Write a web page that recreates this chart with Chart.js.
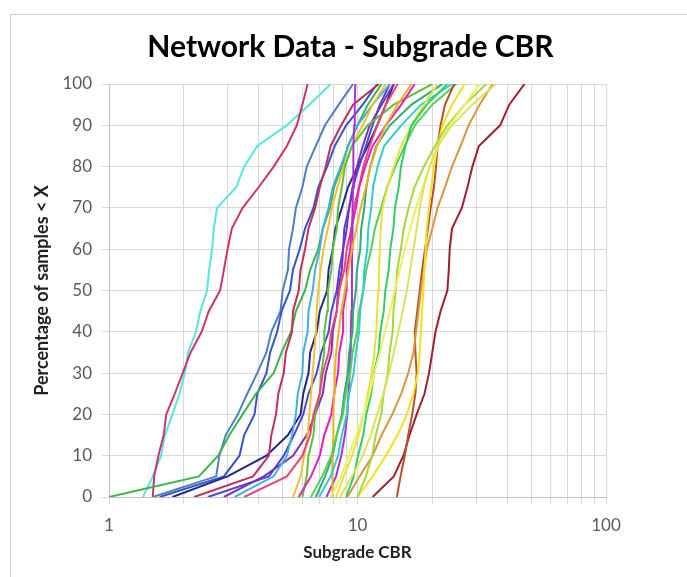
<!DOCTYPE html>
<html>
<head>
<meta charset="utf-8">
<title>Network Data - Subgrade CBR</title>
<script src="https://cdn.jsdelivr.net/npm/chart.js@4.4.1/dist/chart.umd.min.js"></script>
<style>
    html, body { margin: 0; padding: 0; background: #fff; overflow: hidden; }
    #wrap { position: relative; width: 687px; height: 577px; }
    #frame {
        position: absolute; left: 10px; top: 14px; width: 700px; height: 600px;
        border: 1px solid #d0d0d0; box-sizing: border-box;
    }
    canvas { position: absolute; left: 0; top: 0; }
</style>
</head>
<body>
<div id="wrap">
    <div id="frame"></div>
    <canvas id="cbrChart" width="687" height="577"></canvas>
</div>
<script>
// Cumulative percentage levels (y) shared by every curve
const pctLevels = [0, 5, 10, 15, 20, 25, 30, 35, 40, 45, 50, 55, 60, 65, 70, 75, 80, 85, 90, 95, 100];

// Subgrade CBR at each level, one array per network section
const cbrCyan      = [1.37, 1.5, 1.62, 1.68, 1.8, 1.92, 2.02, 2.08, 2.24, 2.33, 2.48, 2.53, 2.6, 2.64, 2.72, 3.25, 3.5, 3.95, 5.2, 6.4, 7.8];
const cbrRose      = [1.5, 1.52, 1.58, 1.66, 1.7, 1.84, 1.98, 2.13, 2.36, 2.52, 2.8, 2.9, 3.0, 3.12, 3.45, 4.0, 4.6, 5.2, 5.7, 6.0, 6.3];
const cbrSteel     = [1.5, 2.7, 2.78, 2.95, 3.3, 3.6, 3.95, 4.3, 4.5, 4.9, 5.0, 5.25, 5.3, 5.5, 5.65, 6.0, 6.25, 6.8, 7.4, 8.4, 9.6];
const cbrRoyal     = [1.6, 2.9, 3.35, 3.5, 3.85, 3.95, 4.3, 4.45, 4.75, 4.95, 5.35, 5.5, 5.85, 6.15, 6.65, 6.95, 7.55, 8.1, 9.0, 10.5, 12.0];
const cbrGreenA    = [1.0, 2.3, 2.75, 3.05, 3.45, 3.9, 4.6, 4.95, 5.4, 5.65, 6.15, 6.45, 6.95, 7.25, 7.75, 8.05, 8.65, 9.15, 10.0, 11.0, 12.5];
const cbrNavy      = [1.8, 3.0, 4.3, 5.25, 5.9, 6.05, 6.35, 6.45, 6.85, 7.05, 7.55, 7.65, 7.95, 8.15, 8.65, 9.15, 10.0, 11.0, 12.0, 13.0, 14.0];
const cbrCrimson   = [2.2, 3.8, 4.4, 4.5, 4.7, 4.8, 5.05, 5.15, 5.45, 5.5, 5.8, 5.9, 6.15, 6.35, 6.75, 7.05, 7.45, 7.8, 8.6, 9.6, 12.2];
const cbrSky       = [3.2, 4.6, 5.2, 5.45, 5.65, 5.75, 6.0, 6.05, 6.3, 6.35, 6.6, 6.75, 7.05, 7.25, 7.65, 7.95, 8.55, 9.2, 10.0, 11.5, 13.5];
const cbrGold      = [5.5, 5.9, 6.1, 6.3, 6.4, 6.5, 6.6, 6.7, 6.8, 6.85, 6.95, 7.1, 7.3, 7.6, 7.9, 8.3, 8.8, 9.5, 10.5, 11.5, 13.0];
const cbrGreenB    = [6.0, 6.25, 6.35, 6.65, 6.75, 7.05, 7.15, 7.35, 7.35, 7.55, 7.6, 7.85, 7.95, 8.25, 8.35, 8.65, 8.9, 9.5, 11.0, 14.0, 20.0];
const cbrPurple    = [2.9, 4.2, 5.5, 6.25, 6.75, 7.25, 7.45, 7.85, 7.95, 8.25, 8.35, 8.65, 8.75, 9.05, 9.25, 9.65, 9.95, 10.5, 11.2, 12.5, 14.0];
const cbrMagenta   = [5.8, 6.5, 7.05, 7.35, 7.85, 8.05, 8.35, 8.45, 8.75, 8.75, 9.0, 9.05, 9.35, 9.45, 9.85, 10.15, 10.75, 11.5, 13.0, 15.0, 17.0];
const cbrViolet    = [7.5, 8.2, 8.6, 8.9, 9.1, 9.2, 9.3, 9.35, 9.4, 9.45, 9.5, 9.5, 9.52, 9.55, 9.55, 9.6, 9.6, 9.65, 9.7, 9.75, 9.8];
const cbrSeaGreen  = [6.8, 7.4, 7.95, 8.25, 8.65, 8.85, 9.15, 9.25, 9.55, 9.6, 9.85, 9.95, 10.25, 10.35, 10.65, 10.85, 11.25, 11.9, 13.5, 16.5, 22.0];
const cbrTurquoise = [7.0, 7.8, 8.35, 8.65, 9.05, 9.25, 9.65, 9.85, 10.15, 10.25, 10.55, 10.65, 10.95, 11.05, 11.35, 11.55, 12.05, 12.8, 15.0, 18.0, 24.0];
const cbrYellowA   = [8.2, 8.8, 9.5, 10.1, 10.6, 11.0, 11.4, 11.7, 11.9, 12.0, 12.1, 12.2, 12.3, 12.4, 12.6, 13.2, 14.0, 15.0, 16.5, 18.5, 21.0];
const cbrSpring    = [9.0, 9.65, 10.05, 10.55, 10.85, 11.35, 11.65, 12.15, 12.35, 12.75, 12.95, 13.35, 13.55, 13.95, 14.15, 14.65, 14.95, 15.6, 16.5, 19.0, 23.0];
const cbrLime      = [10.0, 10.8, 11.45, 11.85, 12.45, 12.75, 13.25, 13.45, 13.85, 13.95, 14.25, 14.45, 14.95, 15.35, 16.05, 16.95, 18.5, 20.5, 23.0, 27.0, 33.0];
const cbrPaleLime  = [8.5, 9.5, 10.5, 11.3, 12.0, 12.7, 13.4, 14.0, 14.6, 15.2, 15.8, 16.3, 16.8, 17.3, 17.8, 18.5, 19.5, 21.0, 24.0, 29.0, 36.0];
const cbrYellowB   = [10.0, 11.5, 13.0, 14.5, 15.8, 16.8, 17.5, 17.8, 18.0, 18.2, 18.4, 18.6, 18.8, 19.0, 19.4, 19.8, 20.3, 21.0, 22.0, 24.0, 27.0];
const cbrAmber     = [7.9, 7.9, 7.95, 8.0, 8.0, 8.05, 8.1, 8.2, 8.4, 8.6, 8.9, 9.2, 9.5, 9.9, 10.3, 10.8, 11.3, 12.0, 13.0, 14.5, 16.5];
const cbrTan       = [9.1, 10.2, 11.5, 12.5, 13.8, 15.0, 16.0, 16.8, 17.2, 17.6, 18.0, 18.5, 19.0, 20.0, 21.0, 22.5, 24.0, 26.0, 28.0, 31.0, 35.0];
const cbrSienna    = [14.4, 14.9, 15.5, 16.0, 16.6, 17.1, 17.3, 17.1, 17.0, 17.4, 17.8, 18.2, 18.7, 19.2, 19.7, 20.3, 20.7, 21.0, 21.6, 22.5, 24.5];
const cbrDarkRed   = [11.5, 14.0, 15.3, 16.2, 17.3, 18.6, 19.4, 20.0, 20.6, 21.6, 23.0, 23.3, 23.5, 24.0, 26.3, 27.7, 29.0, 30.8, 37.5, 40.8, 47.0];
const cbrPink      = [3.5, 5.2, 6.0, 6.45, 6.65, 7.05, 7.25, 7.65, 7.85, 8.25, 8.45, 8.85, 9.05, 9.45, 9.65, 10.15, 10.55, 11.2, 12.0, 13.0, 14.5];
const cbrYellowC   = [7.8, 8.6, 9.2, 9.9, 10.6, 11.2, 11.7, 12.3, 12.9, 13.5, 14.1, 14.8, 15.5, 16.3, 17.2, 18.3, 19.6, 21.2, 23.5, 27.0, 31.0];
const cbrIndigo    = [2.5, 4.4, 5.05, 5.55, 6.05, 6.35, 6.85, 7.15, 7.65, 7.85, 8.25, 8.45, 8.75, 8.85, 9.25, 9.55, 10.15, 10.8, 11.5, 12.3, 13.5];
const cbrGreenC    = [6.5, 7.2, 7.85, 8.25, 8.75, 8.95, 9.35, 9.55, 9.95, 10.15, 10.55, 10.85, 11.35, 11.75, 12.45, 13.15, 14.2, 15.5, 17.0, 20.0, 25.0];

// Log axis tick values and the ones that carry a label
const xTicks = [1, 2, 3, 4, 5, 6, 7, 8, 9, 10, 20, 30, 40, 50, 60, 70, 80, 90, 100];
const xLabelled = [1, 10, 100];

const seriesList = [
    { xs: cbrPaleLime,  color: '#d9e45a' },
    { xs: cbrYellowC,   color: '#eef060' },
    { xs: cbrLime,      color: '#a6d83a' },
    { xs: cbrYellowB,   color: '#f2e21e' },
    { xs: cbrTan,       color: '#d9963c' },
    { xs: cbrSienna,    color: '#b8502c' },
    { xs: cbrDarkRed,   color: '#a0202e' },
    { xs: cbrSpring,    color: '#33cc66' },
    { xs: cbrYellowA,   color: '#e8e23c' },
    { xs: cbrTurquoise, color: '#33cccc' },
    { xs: cbrGreenC,    color: '#55d055' },
    { xs: cbrAmber,     color: '#f0b020' },
    { xs: cbrSeaGreen,  color: '#2eaa7a' },
    { xs: cbrViolet,    color: '#b030d8' },
    { xs: cbrMagenta,   color: '#e020c0' },
    { xs: cbrPink,      color: '#e8457a' },
    { xs: cbrGreenB,    color: '#5cc236' },
    { xs: cbrGold,      color: '#f2c12e' },
    { xs: cbrSky,       color: '#45b0e0' },
    { xs: cbrPurple,    color: '#7a30b8' },
    { xs: cbrIndigo,    color: '#4a46d8' },
    { xs: cbrCrimson,   color: '#c0305a' },
    { xs: cbrNavy,      color: '#23288a' },
    { xs: cbrGreenA,    color: '#3cb44b' },
    { xs: cbrRoyal,     color: '#3355cc' },
    { xs: cbrSteel,     color: '#4f7fc0' },
    { xs: cbrRose,      color: '#cc3370' },
    { xs: cbrCyan,      color: '#55e6e0' }
];

const gridColor = '#d9d9d9';
const textColor = '#595959';
const fontFamily = 'Lato, "Liberation Sans", sans-serif';

const ctx = document.getElementById('cbrChart').getContext('2d');
new Chart(ctx, {
    type: 'line',
    data: {
        datasets: seriesList.map(s => ({
            data: s.xs.map((x, i) => ({ x: x, y: pctLevels[i] })),
            borderColor: s.color,
            backgroundColor: s.color,
            borderWidth: 2,
            pointRadius: 0,
            tension: 0,
            fill: false
        }))
    },
    options: {
        responsive: false,
        animation: false,
        layout: { padding: { left: 14, right: 0, top: 0, bottom: 0 } },
        plugins: {
            legend: { display: false },
            tooltip: { enabled: false },
            title: {
                display: true,
                text: 'Network Data - Subgrade CBR',
                color: '#000',
                font: { family: fontFamily, size: 30, weight: 'bold', lineHeight: 1.2 },
                padding: { top: 29, bottom: 19 }
            }
        },
        scales: {
            x: {
                type: 'logarithmic',
                min: 1,
                max: 100,
                afterBuildTicks: scale => { scale.ticks = xTicks.map(v => ({ value: v })); },
                afterFit: scale => { scale.height = 80; },
                grid: { color: gridColor, tickLength: 7, lineWidth: 1 },
                border: { color: '#bfbfbf' },
                ticks: {
                    autoSkip: false,
                    maxRotation: 0,
                    padding: 11,
                    color: textColor,
                    font: { family: fontFamily, size: 17 },
                    callback: v => xLabelled.includes(v) ? String(v) : ''
                },
                title: {
                    display: true,
                    text: 'Subgrade CBR',
                    color: '#222',
                    font: { family: fontFamily, size: 17, weight: 'bold', lineHeight: 1.2 },
                    padding: { top: 4, bottom: 14 }
                }
            },
            y: {
                min: 0,
                max: 100,
                afterFit: scale => { scale.width = 95; },
                grid: { color: gridColor, tickLength: 7, lineWidth: 1 },
                border: { color: '#bfbfbf' },
                ticks: {
                    stepSize: 10,
                    padding: 10,
                    color: textColor,
                    font: { family: fontFamily, size: 17 }
                },
                title: {
                    display: true,
                    text: 'Percentage of samples < X',
                    color: '#222',
                    font: { family: fontFamily, size: 18, weight: 'bold', lineHeight: 1.2 },
                    padding: { top: 17, bottom: 4 }
                }
            },
            // empty right-hand axis that only reserves the white margin right of the plot
            yRight: {
                position: 'right',
                min: 0,
                max: 100,
                afterFit: scale => { scale.width = 81; },
                grid: { display: false },
                border: { display: false },
                ticks: { display: false }
            }
        }
    }
});
</script>
</body>
</html>
